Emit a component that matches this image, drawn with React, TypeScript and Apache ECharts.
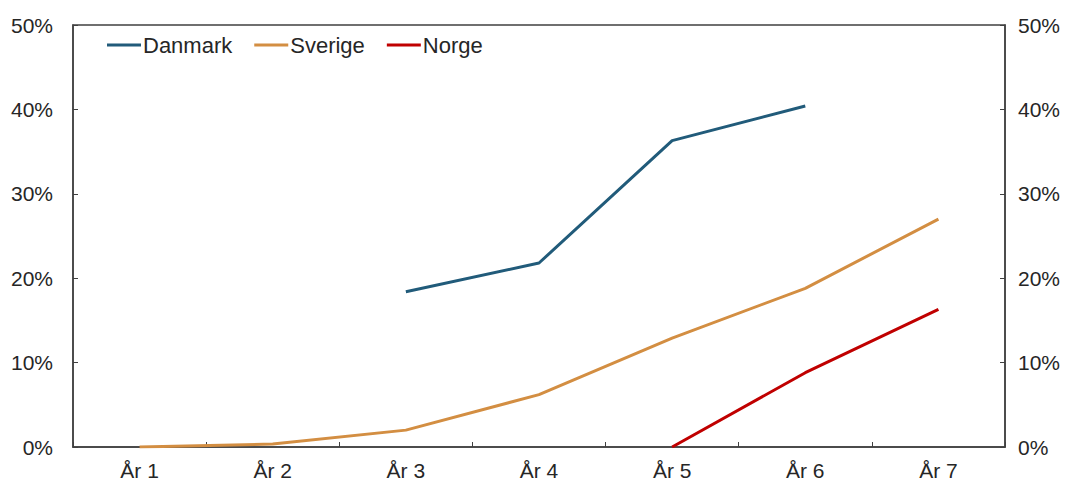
import React, { useEffect, useRef } from "react";
import * as echarts from "echarts";

const categories = ["År 1", "År 2", "År 3", "År 4", "År 5", "År 6", "År 7"];
const danmark = [null, null, 18.4, 21.8, 36.3, 40.4, null];
const sverige = [0, 0.35, 2.0, 6.2, 12.9, 18.8, 27.0];
const norge = [null, null, null, null, 0, 8.8, 16.3];
const yTicks = [0, 10, 20, 30, 40, 50];

const FONT = "'Liberation Sans', Arial, sans-serif";
const TEXT = "#262626";
const FS = 21;

export default function App() {
  const ref = useRef<HTMLDivElement>(null);
  useEffect(() => {
    const chart = echarts.init(ref.current!, undefined, { renderer: "svg" });
    const yAxisBase = (pos: "left" | "right") => ({
      type: "value" as const,
      position: pos,
      min: yTicks[0],
      max: yTicks[yTicks.length - 1],
      interval: 10,
      axisLine: { show: true, lineStyle: { color: "#404040", width: 1.5 } },
      axisTick: { show: true, inside: true, length: 5, lineStyle: { color: "#404040" } },
      splitLine: { show: false },
      axisLabel: {
        formatter: (v: number) => `${v}%`,
        fontSize: FS,
        fontFamily: FONT,
        color: TEXT,
        margin: pos === "left" ? 20 : 13,
      },
    });
    chart.setOption({
      animation: false,
      textStyle: { fontFamily: FONT },
      grid: {
        left: 73,
        right: 65,
        top: 25,
        bottom: 35,
        show: true,
        borderColor: "#404040",
        borderWidth: 1.5,
      },
      legend: {
        left: 102,
        top: 29,
        itemWidth: 34,
        itemHeight: 3,
        itemGap: 22,
        icon: "rect",
        textStyle: { fontSize: 22, fontFamily: FONT, color: TEXT, padding: [0, 0, 0, -3] },
        data: ["Danmark", "Sverige", "Norge"],
      },
      xAxis: {
        type: "category",
        data: categories,
        boundaryGap: true,
        axisLine: { show: true, lineStyle: { color: "#404040", width: 1.5 } },
        axisTick: { show: true, inside: true, length: 5, alignWithLabel: false, lineStyle: { color: "#404040" } },
        axisLabel: { fontSize: FS, fontFamily: FONT, color: TEXT, margin: 13 },
      },
      yAxis: [yAxisBase("left"), yAxisBase("right")],
      series: [
        {
          name: "Danmark",
          type: "line",
          data: danmark,
          symbol: "none",
          connectNulls: false,
          itemStyle: { color: "#215b7a" },
          lineStyle: { width: 3, color: "#215b7a" },
        },
        {
          name: "Sverige",
          type: "line",
          data: sverige,
          symbol: "none",
          itemStyle: { color: "#d38e42" },
          lineStyle: { width: 3, color: "#d38e42" },
        },
        {
          name: "Norge",
          type: "line",
          data: norge,
          symbol: "none",
          itemStyle: { color: "#c00000" },
          lineStyle: { width: 3, color: "#c00000" },
        },
      ],
    });
    return () => chart.dispose();
  }, []);
  return (
    <div
      ref={ref}
      style={{ position: "fixed", left: 0, top: 0, width: 1070, height: 482, background: "#fff" }}
    />
  );
}
